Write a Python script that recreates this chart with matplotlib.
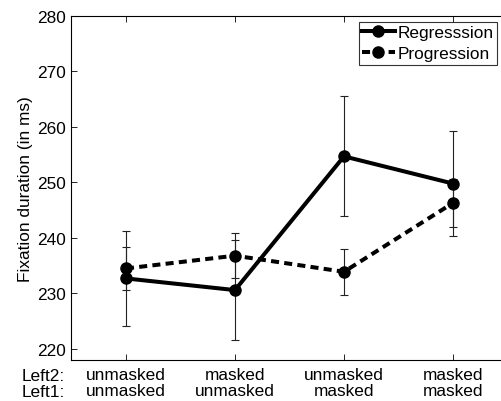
import matplotlib
matplotlib.use("Agg")
import matplotlib.pyplot as plt
import numpy as np

plt.rcParams['font.family'] = ['Liberation Sans', 'DejaVu Sans']

#%% Data

conditions = ['unmasked\nunmasked', 'masked\nunmasked', 'unmasked\nmasked', 'masked\nmasked']
x = np.arange(1, len(conditions) + 1)

regression     = [232.7, 230.6, 254.7, 249.8]
regression_err = [8.6, 9.0, 10.8, 9.5]

progression     = [234.5, 236.8, 233.9, 246.3]
progression_err = [3.8, 4.1, 4.1, 4.3]

FS = 12.4

#%% Figure

fig = plt.figure(figsize=(5.02, 4.02), dpi=100)
ax = fig.add_axes([0.1424, 0.102, 0.8685, 0.8557])

# error bars first, thin
ax.errorbar(x, regression, yerr=regression_err, fmt='none', ecolor='#222222',
            elinewidth=0.8, capsize=2.6, capthick=0.8, zorder=1)
ax.errorbar(x, progression, yerr=progression_err, fmt='none', ecolor='#222222',
            elinewidth=0.8, capsize=2.6, capthick=0.8, zorder=1)

ax.plot(x, progression, color='black', lw=2.9, linestyle=(0, (2.0, 1.3)),
        marker='o', markersize=8, label='Progression', zorder=2)
ax.plot(x, regression, color='black', lw=2.9, linestyle='-',
        marker='o', markersize=8, label='Regresssion', zorder=3)

ax.set_xlim(0.5, 4.5)
ax.set_ylim(218, 280)
ax.set_xticks(x)
ax.set_xticklabels(conditions, fontsize=FS, linespacing=1.08)
ax.set_yticks(np.arange(220, 281, 10))
ax.tick_params(axis='y', labelsize=FS)
ax.tick_params(direction='in', length=4, width=0.6, top=True, right=True, pad=4)
ax.tick_params(axis='x', pad=5)
for s in ax.spines.values():
    s.set_linewidth(0.8)

ax.set_ylabel('Fixation duration (in ms)', fontsize=FS, labelpad=3)

fig.text(0.044, 0.043, 'Left2:\nLeft1:', ha='left', va='center',
         fontsize=FS, linespacing=1.08)

handles, labels = ax.get_legend_handles_labels()
leg = ax.legend(handles[::-1], labels[::-1], loc='upper right',
                bbox_to_anchor=(0.976, 0.983), fontsize=FS, frameon=True,
                fancybox=False, edgecolor='black', handlelength=1.9,
                handletextpad=0.15, borderpad=0.2, labelspacing=0.35,
                borderaxespad=0)
leg.get_frame().set_linewidth(0.8)

fig.savefig('out.png', dpi=100)
